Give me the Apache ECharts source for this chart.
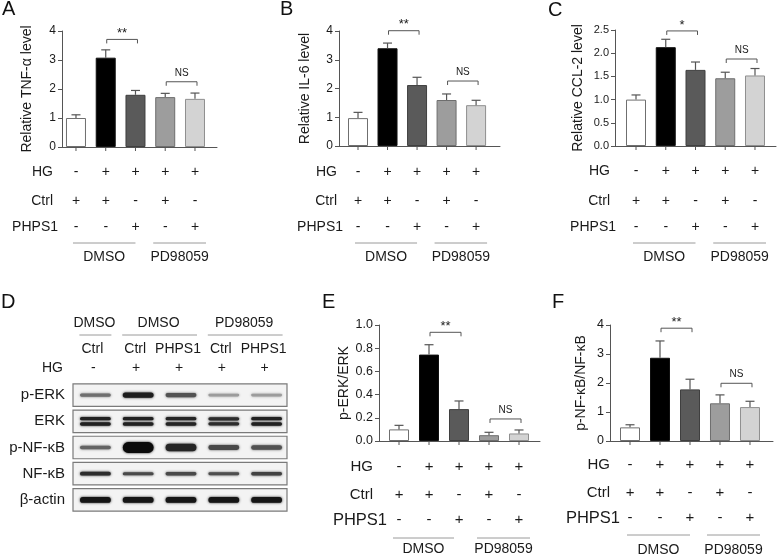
<!DOCTYPE html>
<html><head><meta charset="utf-8">
<script src="https://cdn.jsdelivr.net/npm/echarts@6/dist/echarts.min.js"></script>
<style>html,body{margin:0;padding:0;background:#fff}#c{width:777px;height:557px}</style>
</head><body><div id="c"></div>
<script>
// ---------------- DATA ----------------
const hgSigns   = ['-', '+', '+', '+', '+'];
const ctrlSigns = ['+', '+', '-', '+', '-'];
const phpsSigns = ['-', '-', '+', '-', '+'];
const rowNames  = ['HG', 'Ctrl', 'PHPS1'];
const groupNames = ['DMSO', 'PD98059'];
const groupStart = [0, 3];
const groupEnd   = [2, 4];

// mean values and upper end of error bars
const tnfMean  = [1.00, 3.08, 1.80, 1.72, 1.66];
const tnfErr   = [1.11, 3.35, 1.95, 1.85, 1.86];
const il6Mean  = [0.97, 3.40, 2.12, 1.60, 1.42];
const il6Err   = [1.17, 3.58, 2.39, 1.81, 1.59];
const ccl2Mean = [1.00, 2.13, 1.64, 1.46, 1.52];
const ccl2Err  = [1.10, 2.30, 1.81, 1.59, 1.67];
const perkMean = [0.10, 0.745, 0.275, 0.05, 0.065];
const perkErr  = [0.135, 0.83, 0.345, 0.075, 0.095];
const pnfMean  = [0.47, 2.87, 1.78, 1.30, 1.17];
const pnfErr   = [0.56, 3.45, 2.13, 1.59, 1.37];

// significance brackets: [fromBar, toBar, yValue, label]
const sigA = [[1, 2, 3.71, '**'], [3, 4, 2.25, 'NS']];
const sigB = [[1, 2, 4.01, '**'], [3, 4, 2.26, 'NS']];
const sigC = [[1, 2, 2.48, '*'],  [3, 4, 1.875, 'NS']];
const sigE = [[1, 2, 0.937, '**'], [3, 4, 0.19, 'NS']];
const sigF = [[1, 2, 3.89, '**'], [3, 4, 1.99, 'NS']];

// Western blot (panel D)
const blotProteins = ['p-ERK', 'ERK', 'p-NF-κB', 'NF-κB', 'β-actin'];
const blotLanes = ['Ctrl', 'Ctrl', 'PHPS1', 'Ctrl', 'PHPS1'];
const blotHG = ['-', '+', '+', '+', '+'];
const blotGroups = ['DMSO', 'DMSO', 'PD98059'];
const blotGroupStart = [0, 1, 3];
const blotGroupEnd = [0, 2, 4];
// band darkness (0-1) per protein row, per lane
const darkPERK  = [0.55, 0.92, 0.68, 0.35, 0.35];
const darkERK   = [0.90, 0.90, 0.88, 0.85, 0.90];
const darkPNF   = [0.60, 1.00, 0.88, 0.72, 0.68];
const darkNF    = [0.85, 0.72, 0.72, 0.70, 0.75];
const darkActin = [0.95, 0.95, 0.95, 0.95, 0.95];
// band thickness relative to the strip
const thickPERK  = [0.14, 0.24, 0.18, 0.12, 0.12];
const thickERK   = [0.42, 0.42, 0.42, 0.40, 0.42];
const thickPNF   = [0.16, 0.48, 0.34, 0.22, 0.20];
const thickNF    = [0.17, 0.14, 0.15, 0.13, 0.15];
const thickActin = [0.26, 0.26, 0.26, 0.26, 0.26];
const blotDark  = [darkPERK, darkERK, darkPNF, darkNF, darkActin];
const blotThick = [thickPERK, thickERK, thickPNF, thickNF, thickActin];

// ---------------- STYLE / LAYOUT ----------------
const FONT = '"Liberation Sans", Arial, Helvetica, sans-serif';
const TXT = '#1a1a1a';
const AX = '#555555';
const ERRC = '#555555';
const barFill = ['#ffffff', '#000000', '#5a5a5a', '#9d9d9d', '#d3d3d3'];
const barEdge = ['#6f6f6f', '#111111', '#3f3f3f', '#6e6e6e', '#8f8f8f'];

const panels = [
  {letter:'A', mean:tnfMean, err:tnfErr, sig:sigA, title:'Relative TNF-α level',
   left:62, top:31, width:155, height:116, xmin:-0.47, xmax:4.74, ymax:4, yint:1, dec:0, gap:28, tickFs:12,
   rowDx:[-9,-9,-4], rowFs:[14,14,14], signFs:14, rowY:[25,54,80], grpY:[96,110], gpad:[[-3,0],[-12,11]]},
  {letter:'B', mean:il6Mean, err:il6Err, sig:sigB, title:'Relative IL-6 level',
   left:339, top:31, width:161, height:115, xmin:-0.644, xmax:4.81, ymax:4, yint:1, dec:0, gap:27, tickFs:12,
   rowDx:[-2,-2,4], rowFs:[14,14,14], signFs:14, rowY:[26,55,81], grpY:[97,111], gpad:[[-3,0],[-12,11]]},
  {letter:'C', mean:ccl2Mean, err:ccl2Err, sig:sigC, title:'Relative CCL-2 level',
   left:615, top:30, width:161, height:116, xmin:-0.706, xmax:4.706, ymax:2.5, yint:0.5, dec:1, gap:30, tickFs:11,
   rowDx:[-5,-5,1], rowFs:[14,14,14], signFs:14, rowY:[25,55,81], grpY:[97,111], gpad:[[-3,0],[-12,11]]},
  {letter:'E', mean:perkMean, err:perkErr, sig:sigE, title:'p-ERK/ERK',
   left:379, top:325, width:161, height:116, xmin:-0.667, xmax:4.7, ymax:1, yint:0.2, dec:1, gap:28, tickFs:12.5,
   rowDx:[-6,-6,8], rowFs:[15,15,16.5], signFs:15, rowY:[26,54,79], grpY:[97,108], gpad:[[-6,-5],[-12,11]]},
  {letter:'F', mean:pnfMean, err:pnfErr, sig:sigF, title:'p-NF-κB/NF-κB',
   left:610, top:325, width:163, height:116, xmin:-0.667, xmax:4.767, ymax:4, yint:1, dec:0, gap:22, tickFs:12.5,
   rowDx:[0,0,10], rowFs:[15,15,16.5], signFs:15, rowY:[24,52,77], grpY:[94,109], gpad:[[-3,0],[-13,10]]}
];

function txt(x, y, s, fs, align, extra) {
  return Object.assign({type:'text', x:x, y:y, silent:true,
    style:{text:s, font: fs + 'px ' + FONT, fill:TXT, align:align, textAlign:align,
           verticalAlign:'middle', textVerticalAlign:'middle'}}, extra || {});
}

const grid = [], xAxis = [], yAxis = [], series = [];

panels.forEach((P, k) => {
  grid.push({left:P.left, top:P.top, width:P.width, height:P.height});
  xAxis.push({gridIndex:k, type:'value', min:P.xmin, max:P.xmax,
    axisLine:{show:true, onZero:false, lineStyle:{color:AX, width:1}},
    axisTick:{show:false}, axisLabel:{show:false}, splitLine:{show:false}});
  yAxis.push({gridIndex:k, type:'value', min:0, max:P.ymax, interval:P.yint,
    axisLine:{show:true, onZero:false, lineStyle:{color:AX, width:1}},
    axisTick:{show:true, length:4, lineStyle:{color:AX}},
    axisLabel:{fontSize:P.tickFs, color:TXT, fontFamily:FONT, margin:6, formatter:v => v.toFixed(P.dec)},
    splitLine:{show:false},
    name:P.title, nameLocation:'middle', nameGap:P.gap,
    nameTextStyle:{fontSize:14, color:TXT, fontFamily:FONT}});
  // bars
  series.push({type:'bar', xAxisIndex:k, yAxisIndex:k, barWidth:20, silent:true, z:2,
    data:P.mean.map((v, i) => ({value:[i, v], itemStyle:{color:barFill[i], borderColor:barEdge[i], borderWidth:1}}))});
  // error bars
  series.push({type:'custom', xAxisIndex:k, yAxisIndex:k, clip:false, z:4, silent:true,
    data:P.mean.map((v, i) => [i, v, P.err[i]]),
    renderItem:(params, api) => {
      const i = api.value(0);
      const a = api.coord([i, api.value(1)]);
      const b = api.coord([i, api.value(2)]);
      return {type:'group', children:[
        {type:'line', shape:{x1:a[0], y1:a[1], x2:b[0], y2:b[1]}, style:{stroke:ERRC, lineWidth:1.2}},
        {type:'line', shape:{x1:b[0]-4.5, y1:b[1], x2:b[0]+4.5, y2:b[1]}, style:{stroke:ERRC, lineWidth:1.2}}
      ]};
    }});
  // significance brackets
  series.push({type:'custom', xAxisIndex:k, yAxisIndex:k, clip:false, z:4, silent:true,
    data:P.sig.map(s => [s[0], s[2], s[1]]),
    renderItem:(params, api) => {
      const s = P.sig[params.dataIndex];
      const a = api.coord([s[0], s[2]]);
      const b = api.coord([s[1], s[2]]);
      const x1 = a[0] + 1, x2 = b[0] + 2, y = a[1];
      const isStar = s[3].indexOf('*') >= 0;
      return {type:'group', children:[
        {type:'polyline', shape:{points:[[x1, y+4], [x1, y], [x2, y], [x2, y+4]]}, style:{stroke:AX, lineWidth:1, fill:null}},
        txt((x1+x2)/2, y - (isStar ? 6 : 9), s[3], isStar ? 13 : 10, 'center')
      ]};
    }});
  // ticks under bars, sign rows and row names
  series.push({type:'custom', xAxisIndex:k, yAxisIndex:k, clip:false, z:4, silent:true,
    data:hgSigns.map((s, i) => [i, 0]),
    renderItem:(params, api) => {
      const i = api.value(0);
      const p = api.coord([i, 0]);
      const cs = params.coordSys;
      const ch = [
        {type:'line', shape:{x1:p[0], y1:p[1], x2:p[0], y2:p[1]+4}, style:{stroke:AX, lineWidth:1}},
        txt(p[0], p[1]+P.rowY[0], hgSigns[i], P.signFs, 'center'),
        txt(p[0], p[1]+P.rowY[1], ctrlSigns[i], P.signFs, 'center'),
        txt(p[0], p[1]+P.rowY[2], phpsSigns[i], P.signFs, 'center')
      ];
      if (i === 0) {
        rowNames.forEach((n, r) => ch.push(txt(cs.x + P.rowDx[r], p[1]+P.rowY[r], n, P.rowFs[r], 'right')));
      }
      return {type:'group', children:ch};
    }});
  // group lines and names
  series.push({type:'custom', xAxisIndex:k, yAxisIndex:k, clip:false, z:4, silent:true,
    data:groupNames.map((g, j) => [groupStart[j], 0, groupEnd[j]]),
    renderItem:(params, api) => {
      const j = params.dataIndex;
      const a = api.coord([api.value(0), 0]);
      const b = api.coord([api.value(2), 0]);
      const x1 = a[0] + P.gpad[j][0], x2 = b[0] + P.gpad[j][1];
      return {type:'group', children:[
        {type:'line', shape:{x1:x1, y1:a[1]+P.grpY[0], x2:x2, y2:a[1]+P.grpY[0]}, style:{stroke:'#9a9a9a', lineWidth:1}},
        txt((x1+x2)/2, a[1]+P.grpY[1], groupNames[j], 14, 'center')
      ]};
    }});
});

// ---------------- PANEL D: blot ----------------
const bk = panels.length;
const STRIP = 22.5;
grid.push({left:73, top:382, width:214, height:131});
xAxis.push({gridIndex:bk, type:'category', data:blotLanes.map((l, i) => i), boundaryGap:true,
  axisLine:{show:false}, axisTick:{show:false}, axisLabel:{show:false}, splitLine:{show:false}});
yAxis.push({gridIndex:bk, type:'category', data:blotProteins, inverse:true,
  axisLine:{show:false}, axisTick:{show:false}, splitLine:{show:false},
  axisLabel:{fontSize:15, color:TXT, fontFamily:FONT, margin:8}});
// strips
series.push({type:'custom', xAxisIndex:bk, yAxisIndex:bk, clip:false, z:2, silent:true,
  data:blotProteins.map((p, r) => [0, r]),
  renderItem:(params, api) => {
    const c = api.coord([0, api.value(1)]);
    const cs = params.coordSys;
    return {type:'rect', shape:{x:cs.x, y:c[1]-STRIP/2, width:cs.width, height:STRIP},
      style:{fill:'#f3f3f3', stroke:'#7a7a7a', lineWidth:1.2}};
  }});
// bands
const bandData = [];
blotProteins.forEach((p, r) => blotLanes.forEach((l, i) => bandData.push([i, r, blotDark[r][i], blotThick[r][i]])));
series.push({type:'custom', xAxisIndex:bk, yAxisIndex:bk, clip:false, z:3, silent:true,
  data:bandData,
  renderItem:(params, api) => {
    const lane = api.value(0), row = api.value(1), d = api.value(2), t = api.value(3);
    const c = api.coord([lane, row]);
    const w = api.size([1, 1])[0] * 0.72;
    const v = Math.round(235 - d * 225);
    const col = 'rgb(' + v + ',' + v + ',' + v + ')';
    const h = t * STRIP;
    const mk = (cy, hh) => ({type:'rect', shape:{x:c[0]+1-w/2, y:cy-hh/2, width:w, height:hh, r:hh/2},
      style:{fill:col, shadowBlur:2.5, shadowColor:col}});
    if (blotProteins[row] === 'ERK') {
      const hh = h * 0.36;
      return {type:'group', children:[mk(c[1]-h*0.28, hh), mk(c[1]+h*0.28, hh)]};
    }
    return mk(c[1], h);
  }});
// lane header (lane names, HG signs)
series.push({type:'custom', xAxisIndex:bk, yAxisIndex:bk, clip:false, z:3, silent:true,
  data:blotLanes.map((l, i) => [i, 0]),
  renderItem:(params, api) => {
    const i = api.value(0);
    const c = api.coord([i, 0]);
    const cs = params.coordSys;
    const ch = [txt(c[0]-2, cs.y-33, blotLanes[i], 14, 'center'),
                txt(c[0]-1, cs.y-14, blotHG[i], 14, 'center')];
    if (i === 0) ch.push(txt(cs.x-10, cs.y-14, 'HG', 14, 'right'));
    return {type:'group', children:ch};
  }});
// treatment groups
series.push({type:'custom', xAxisIndex:bk, yAxisIndex:bk, clip:false, z:3, silent:true,
  data:blotGroups.map((g, j) => [blotGroupStart[j], 0, blotGroupEnd[j]]),
  renderItem:(params, api) => {
    const j = params.dataIndex;
    const a = api.coord([api.value(0), 0]);
    const b = api.coord([api.value(2), 0]);
    const cs = params.coordSys;
    const x1 = a[0] - 15, x2 = b[0] + 17;
    return {type:'group', children:[
      {type:'line', shape:{x1:x1, y1:cs.y-47, x2:x2, y2:cs.y-47}, style:{stroke:'#9a9a9a', lineWidth:1}},
      txt((x1+x2)/2 - 1, cs.y-59, blotGroups[j], 14, 'center')
    ]};
  }});

// panel letters
const letterPos = [['A', 2, -1], ['B', 280, -1], ['C', 548, 0], ['D', 1, 292], ['E', 322, 292], ['F', 552, 292]];
const graphic = letterPos.map(L => ({type:'text', left:L[1], top:L[2], silent:true,
  style:{text:L[0], font:'20px ' + FONT, fill:'#111'}}));

const chart = echarts.init(document.getElementById('c'), null, {renderer:'canvas'});
chart.setOption({animation:false, backgroundColor:'#ffffff', grid, xAxis, yAxis, series, graphic});
</script></body></html>
